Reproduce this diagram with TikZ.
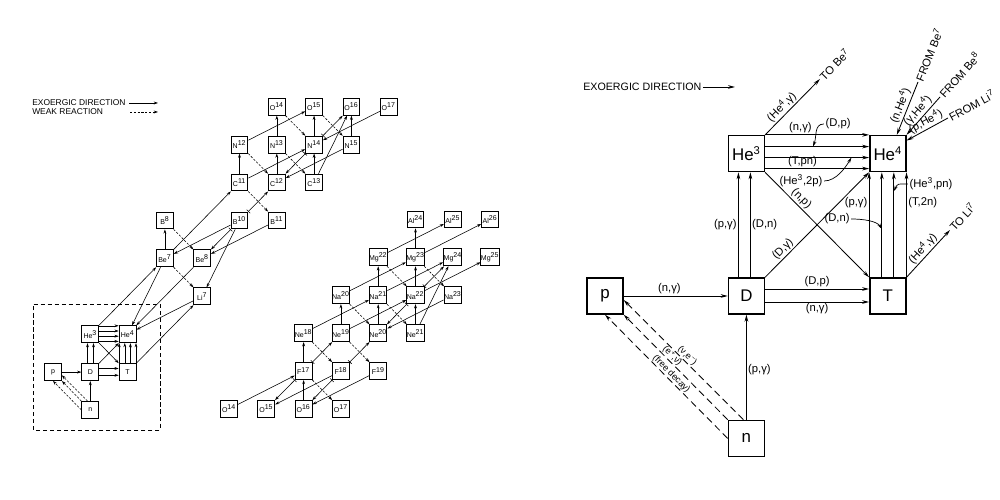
\documentclass[tikz,border=0pt]{standalone}
\usepackage{fontspec}
\setmainfont{Liberation Sans}
\usetikzlibrary{positioning,arrows.meta,calc}
\newcommand{\sups}[1]{\textsuperscript{#1}}
\tikzset{
  nuc/.style={rectangle,draw,line width=.7pt,minimum size=4.2mm,inner sep=0pt,
    font=\fontsize{5}{6}\selectfont},
  bignuc/.style={rectangle,draw,line width=1pt,minimum size=9mm,inner sep=0pt,
    font=\fontsize{12}{14}\selectfont},
  sflow/.style={arrows={-Stealth[length=3pt,width=2pt]},line width=.4pt},
  sweak/.style={sflow,dash pattern=on 1.6pt off 1.1pt},
  stick/.style={arrows={Bar[width=3.5pt]-Stealth[length=3pt,width=2pt]},line width=.4pt},
  flow/.style={arrows={-Stealth[length=5pt,width=2.6pt]},line width=.6pt},
  weak/.style={flow,dash pattern=on 5pt off 3pt},
  lead/.style={arrows={-Stealth[length=4pt,width=2.2pt]},line width=.5pt},
  rlab/.style={font=\fontsize{8}{9}\selectfont,inner sep=1pt},
  dlab/.style={font=\fontsize{6.5}{7}\selectfont,inner sep=.4pt},
  leg/.style={font=\fontsize{6}{7}\selectfont,inner sep=0pt},
}
\begin{document}
\begin{tikzpicture}[x=0.25mm,y=0.25mm]
  \useasboundingbox (0,0) rectangle (1000,500);
  % legend of the chart
  \node[leg,anchor=west] (lexo) at (32,397) {EXOERGIC DIRECTION};
  \coordinate (lexoend) at (158,397);
  \draw[sflow] ([xshift=.8mm]lexo.east) -- (lexoend);
  \node[leg,anchor=west] (lweak) at (32,388) {WEAK REACTION};
  \coordinate (lweaka) at (130,388);
  \coordinate (lweakb) at (158,388);
  \draw[sweak] (lweaka) -- (lweakb);
  \draw[dash pattern=on 3pt off 2pt,line width=.5pt] (33,70) rectangle (160,196);
  % chart up to oxygen
  \begin{scope}[shift={(53,90)},x=9.325mm,y=9.475mm]
    \node[nuc] (lp) at (0,1) {p};
    \node[nuc] (ln) at (1,0) {n};
    \node[nuc] (ld) at (1,1) {D};
    \node[nuc] (lt) at (2,1) {T};
    \node[nuc] (lhe3) at (1,2) {He\sups{3}};
    \node[nuc] (lhe4) at (2,2) {He\sups{4}};
    \node[nuc] (lli7) at (4,3) {Li\sups{7}};
    \node[nuc] (lbe7) at (3,4) {Be\sups{7}};
    \node[nuc] (lbe8) at (4,4) {Be\sups{8}};
    \node[nuc] (lb8) at (3,5) {B\sups{8}};
    \node[nuc] (lb10) at (5,5) {B\sups{10}};
    \node[nuc] (lb11) at (6,5) {B\sups{11}};
    \node[nuc] (lc11) at (5,6) {C\sups{11}};
    \node[nuc] (lc12) at (6,6) {C\sups{12}};
    \node[nuc] (lc13) at (7,6) {C\sups{13}};
    \node[nuc] (ln12) at (5,7) {N\sups{12}};
    \node[nuc] (ln13) at (6,7) {N\sups{13}};
    \node[nuc] (ln14) at (7,7) {N\sups{14}};
    \node[nuc] (ln15) at (8,7) {N\sups{15}};
    \node[nuc] (lo14) at (6,8) {O\sups{14}};
    \node[nuc] (lo15) at (7,8) {O\sups{15}};
    \node[nuc] (lo16) at (8,8) {O\sups{16}};
    \node[nuc] (lo17) at (9,8) {O\sups{17}};
    % boxed part
    \draw[sflow] (lp) -- (ld);
    \draw[sflow] (ln) -- (ld);
    \draw[sweak] ([xshift=-.7mm]ln.north) -- ([yshift=-.8mm]lp.east);
    \draw[sweak] (ln.north west) -- (lp.south east);
    \draw[sweak] (ln.west) -- (lp.south);
    \foreach \dx in {-.7mm,.8mm} \draw[sflow] ([xshift=\dx]ld.north) -- ([xshift=\dx]lhe3.south);
    \foreach \dy in {.9mm,-.8mm} \draw[sflow] ([yshift=\dy]ld.east) -- ([yshift=\dy]lt.west);
    \foreach \dy in {2.1mm,.8mm,-.5mm,-1.8mm} \draw[sflow] ([yshift=\dy]lhe3.east) -- ([yshift=\dy]lhe4.west);
    \foreach \dx in {-2.1mm,-.7mm,.7mm,2.1mm} \draw[sflow] ([xshift=\dx]lt.north) -- ([xshift=\dx]lhe4.south);
    \draw[sflow] (ld.north east) -- (lhe4.south west);
    \draw[sflow] (lhe3.south east) -- (lt.north west);
    % Li, Be, B
    \draw[sflow] (lhe3) -- (lbe7);
    \draw[sflow] (lt) -- (lli7);
    \draw[sflow] (lbe7) -- (lhe4);
    \draw[sflow] (lbe8) -- (lhe4);
    \draw[sflow] (lli7) -- (lhe4);
    \draw[sweak] (lbe7) -- (lli7);
    \draw[sflow] (lbe7) -- (lb8);
    \draw[sweak] (lb8) -- (lbe8);
    \draw[sflow] (lb10) -- (lbe7);
    \draw[sflow] (lb10) -- (lli7);
    \draw[sflow] (lb11) -- (lbe8);
    \draw[stick] (lb10) -- (lbe8);
    % C, N, O
    \draw[sflow] (lbe7) -- (lc11);
    \draw[sflow] (lc11) -- (ln12);
    \draw[sflow] (lc12) -- (ln13);
    \draw[sflow] (lc13) -- (ln14);
    \draw[sflow] (ln13) -- (lo14);
    \draw[sflow] (ln14) -- (lo15);
    \draw[sflow] (ln15) -- (lo16);
    \draw[sweak] (lc11) -- (lb11);
    \draw[sweak] (ln12) -- (lc12);
    \draw[sweak] (ln13) -- (lc13);
    \draw[sweak] (lo14) -- (ln14);
    \draw[sweak] (lo15) -- (ln15);
    \draw[sflow] (ln12) -- (lo15);
    \draw[sflow] (lc11) -- (ln14);
    \draw[stick] (lb10) -- (lc12);
    \draw[stick] (ln14) -- (lc12);
    \draw[stick] (ln14) -- (lo16);
    \draw[sflow] (ln15) -- (lc12);
    \draw[sflow] (lo17) -- (ln14);
    \draw[sflow] (lc13) -- (lo16);
  \end{scope}
  % chart from oxygen to aluminium
  \begin{scope}[shift={(5.2,-212.2)},x=9.325mm,y=9.475mm]
    \node[nuc] (mo14) at (6,8) {O\sups{14}};
    \node[nuc] (mo15) at (7,8) {O\sups{15}};
    \node[nuc] (mo16) at (8,8) {O\sups{16}};
    \node[nuc] (mo17) at (9,8) {O\sups{17}};
    \node[nuc] (mf17) at (8,9) {F\sups{17}};
    \node[nuc] (mf18) at (9,9) {F\sups{18}};
    \node[nuc] (mf19) at (10,9) {F\sups{19}};
    \node[nuc] (mne18) at (8,10) {Ne\sups{18}};
    \node[nuc] (mne19) at (9,10) {Ne\sups{19}};
    \node[nuc] (mne20) at (10,10) {Ne\sups{20}};
    \node[nuc] (mne21) at (11,10) {Ne\sups{21}};
    \node[nuc] (mna20) at (9,11) {Na\sups{20}};
    \node[nuc] (mna21) at (10,11) {Na\sups{21}};
    \node[nuc] (mna22) at (11,11) {Na\sups{22}};
    \node[nuc] (mna23) at (12,11) {Na\sups{23}};
    \node[nuc] (mmg22) at (10,12) {Mg\sups{22}};
    \node[nuc] (mmg23) at (11,12) {Mg\sups{23}};
    \node[nuc] (mmg24) at (12,12) {Mg\sups{24}};
    \node[nuc] (mmg25) at (13,12) {Mg\sups{25}};
    \node[nuc] (mal24) at (11,13) {Al\sups{24}};
    \node[nuc] (mal25) at (12,13) {Al\sups{25}};
    \node[nuc] (mal26) at (13,13) {Al\sups{26}};
    \draw[sflow] (mo14) -- (mf17);
    \draw[stick] (mf17) -- (mo15);
    \draw[sflow] (mf18) -- (mo15);
    \draw[sflow] (mo16) -- (mf17);
    \draw[stick] (mf18) -- (mo16);
    \draw[sflow] (mf19) -- (mo16);
    \draw[sweak] (mf17) -- (mo17);
    \draw[sflow] (mf17) -- (mne18);
    \draw[sweak] (mne18) -- (mf18);
    \draw[stick] (mf17) -- (mne19);
    \draw[sweak] (mne19) -- (mf19);
    \draw[stick] (mf18) -- (mne20);
    \draw[sflow] (mne19) -- (mna20);
    \draw[sflow] (mne18) -- (mna21);
    \draw[sflow] (mne19) -- (mna22);
    \draw[sweak] (mna20) -- (mne20);
    \draw[sflow] (mne20) -- (mna21);
    \draw[sflow] (mna20) -- (mmg23);
    \draw[sflow] (mna21) -- (mmg22);
    \draw[sweak] (mna21) -- (mne21);
    \draw[sweak] (mmg22) -- (mna22);
    \draw[sflow] (mne21) -- (mna22);
    \draw[sflow] (mna22) -- (mmg23);
    \draw[stick] (mna22) -- (mne20);
    \draw[sflow] (mna23) -- (mne20);
    \draw[sflow] (mmg23) -- (mal24);
    \draw[sweak] (mmg23) -- (mna23);
    \draw[sflow] (mmg22) -- (mal25);
    \draw[sflow] (mmg23) -- (mal26);
    \draw[sflow] (mna22) -- (mmg25);
    \draw[sflow] (mna21) -- (mmg24);
    \draw[stick] (mna22) -- (mmg24);
    \draw[sflow] (mne21) -- (mmg24);
  \end{scope}
  % light-element network
  \node[anchor=west,inner sep=0pt,font=\fontsize{7.6}{9}\selectfont] (rexo) at (583,413) {EXOERGIC DIRECTION};
  \coordinate (rexoend) at (735,413);
  \draw[flow] ([xshift=.3mm]rexo.east) -- (rexoend);
  \node[bignuc] (rp) at (605,204) {p};
  \node[bignuc,right=26mm of rp] (rd) {D};
  \node[bignuc,right=26mm of rd] (rt) {T};
  \node[bignuc,above=26.25mm of rd] (rhe3) {He\sups{3}};
  \node[bignuc,right=26mm of rhe3] (rhe4) {He\sups{4}};
  \node[bignuc,below=26.25mm of rd] (rn) {n};
  \draw[flow] (rp) -- node[rlab,above,pos=.44] {(n,γ)} (rd);
  \draw[flow] (rn) -- node[rlab,right,pos=.48] {(p,γ)} (rd);
  \draw[weak] ([xshift=-.75mm]rn.north) -- node[dlab,sloped,above,pos=.5] {(ν,e\sups{−})} ([yshift=-1mm]rp.east);
  \draw[weak] (rn.north west) -- node[dlab,sloped,above,pos=.57] {(e\sups{+},ν̄)} (rp.south east);
  \draw[weak] (rn.west) -- node[dlab,sloped,above,pos=.49] {(free decay)} (rp.south);
  \draw[flow] ([xshift=-2mm]rd.north) -- node[rlab,left] {(p,γ)} ([xshift=-2mm]rhe3.south);
  \draw[flow] ([xshift=1mm]rd.north) -- node[rlab,right] {(D,n)} ([xshift=1mm]rhe3.south);
  \draw[flow] ([yshift=1.75mm]rd.east) -- node[rlab,above] {(D,p)} ([yshift=1.75mm]rt.west);
  \draw[flow] ([yshift=-1.5mm]rd.east) -- node[rlab,below] {(n,γ)} ([yshift=-1.5mm]rt.west);
  % He3 to He4
  \draw[flow] (rhe3.north east) -- node[rlab,above,pos=.34] {(n,γ)} (rhe4.north west);
  \draw[flow] ([yshift=1.75mm]rhe3.east) -- coordinate[pos=.46] (dpt) ([yshift=1.75mm]rhe4.west);
  \draw[flow] ([yshift=-1mm]rhe3.east) -- coordinate[pos=.83] (h2pt) ([yshift=-1mm]rhe4.west);
  \draw[flow] ([yshift=-3.75mm]rhe3.east) -- node[rlab,above,pos=.36] {(T,pn)} ([yshift=-3.75mm]rhe4.west);
  \node[rlab] (ldp) at (838,376) {(D,p)};
  \draw[lead] (ldp.west) .. controls +(-10,0) and +(4,10) .. (dpt);
  \node[rlab] (lh2p) at (801,319) {(He\sups{3},2p)};
  \draw[lead] (lh2p.east) .. controls +(12,0) and +(-6,-10) .. (h2pt);
  % T to He4
  \draw[flow] (rt.north west) -- node[rlab,left,pos=.71] {(p,γ)} (rhe4.south west);
  \draw[flow] ([xshift=-1.5mm]rt.north) -- coordinate[pos=.46] (dnt) ([xshift=-1.5mm]rhe4.south);
  \draw[flow] ([xshift=1.5mm]rt.north) -- coordinate[pos=.82] (h3pnt) ([xshift=1.5mm]rhe4.south);
  \draw[flow] (rt.north east) -- node[rlab,right,pos=.71] {(T,2n)} (rhe4.south east);
  \node[rlab] (ldn) at (837,281) {(D,n)};
  \draw[lead] (ldn.east) .. controls +(12,0) and +(-5,8) .. (dnt);
  \node[rlab] (lh3pn) at (931,316) {(He\sups{3},pn)};
  \draw[lead] (lh3pn.west) .. controls +(-10,0) and +(4,8) .. (h3pnt);
  % diagonals
  \draw[flow] (rd.north east) -- node[rlab,sloped,above,pos=.22] {(D,γ)} (rhe4.south west);
  \draw[flow] (rhe3.south east) -- node[rlab,sloped,above,pos=.3] {(n,p)} (rt.north west);
  % links to heavier nuclei
  \coordinate (tobe) at (820,421);
  \draw[flow] (rhe3.north east) -- node[rlab,sloped,above,pos=.4] {(He\sups{4},γ)} node[rlab,sloped,anchor=west,pos=1] {TO Be\sups{7}} (tobe);
  \coordinate (toli) at (950,270);
  \draw[flow] (rt.north east) -- node[rlab,sloped,above,pos=.5] {(He\sups{4},γ)} node[rlab,sloped,anchor=west,pos=1] {TO Li\sups{7}} (toli);
  \coordinate (fbe7) at (918,418);
  \draw[flow] (fbe7) -- node[rlab,sloped,above,pos=.5] {(n,He\sups{4})} node[rlab,sloped,anchor=west,pos=0] {FROM Be\sups{7}} ($(rhe4.north)+(9,0)$);
  \coordinate (fbe8) at (940,403);
  \draw[flow] (fbe8) -- node[rlab,sloped,above,pos=.5] {(γ,He\sups{4})} node[rlab,sloped,anchor=west,pos=0] {FROM Be\sups{8}} (rhe4.north east);
  \coordinate (fli7) at (948,382);
  \draw[flow] (fli7) -- node[rlab,sloped,above,pos=.45] {(p,He\sups{4})} node[rlab,sloped,anchor=west,pos=0] {FROM Li\sups{7}} ($(rhe4.east)+(0,13)$);
\end{tikzpicture}
\end{document}
